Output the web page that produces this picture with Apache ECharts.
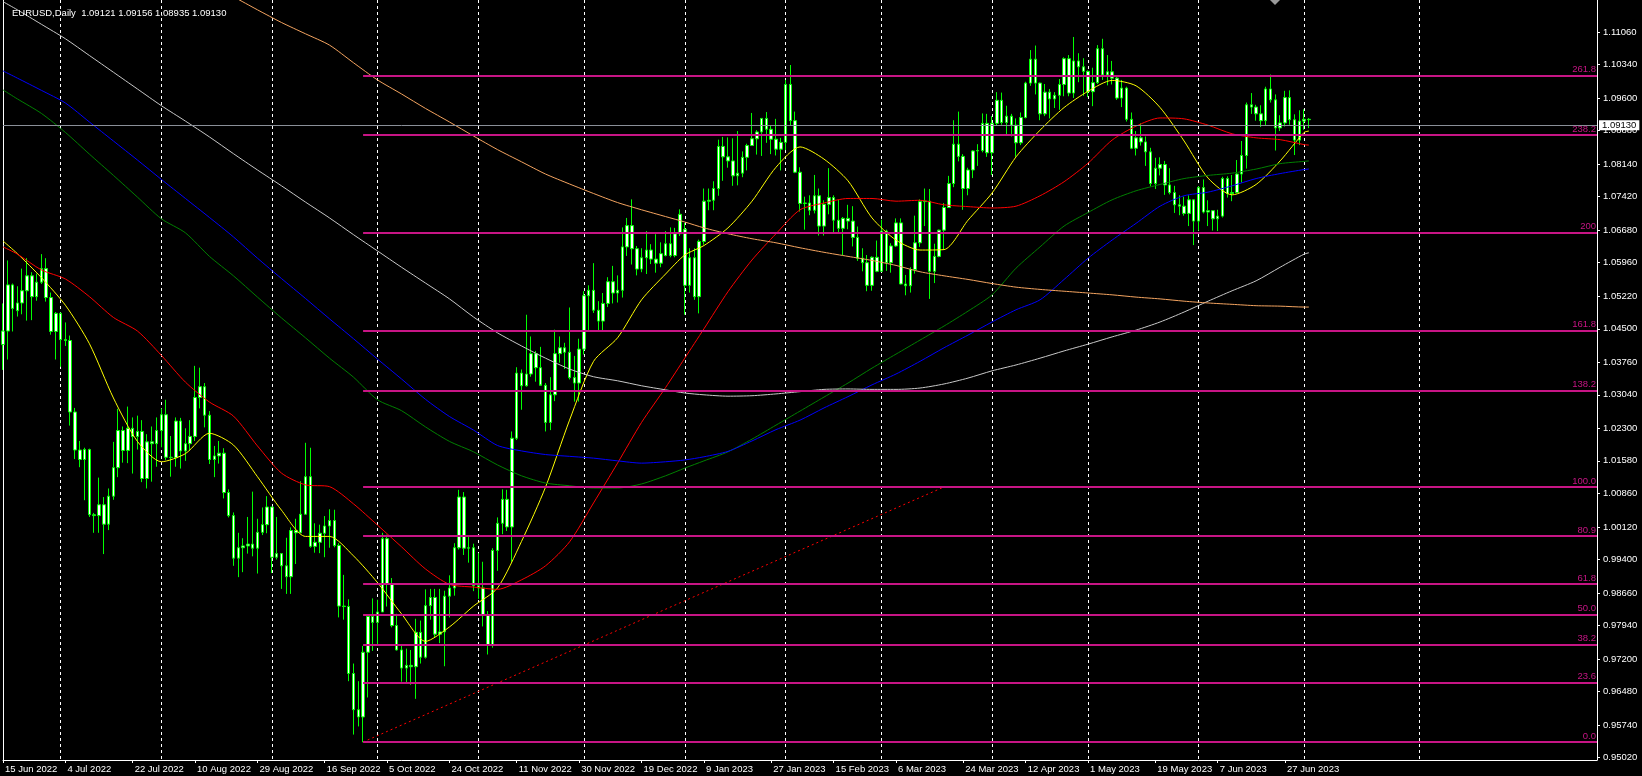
<!DOCTYPE html>
<html><head><meta charset="utf-8">
<script src="https://cdn.jsdelivr.net/npm/echarts@6/dist/echarts.min.js"></script>
<style>html,body{margin:0;padding:0;background:#000;overflow:hidden}#c{width:1642px;height:776px;}</style>
</head><body><div id="c"></div>
<script>
// ---------- data ----------
const titleText = 'EURUSD,Daily  1.09121 1.09156 1.08935 1.09130';
const startDate = '2022-06-15';
const missingDays = ['2022-12-26', '2023-01-02'];
const totalSlots = 333; // trading-day slots on the time axis (incl. empty future area)

// daily candles [open, high, low, close], one per trading day from startDate
const ohlc = [
  // Jun 15-17 2022
  [1.0415,1.0506,1.0359,1.0445],[1.0445,1.0601,1.0382,1.0547],[1.0547,1.0550,1.0444,1.0495],
  // Jun 20-24
  [1.0490,1.0544,1.0477,1.0507],[1.0507,1.0583,1.0482,1.0534],[1.0534,1.0606,1.0468,1.0567],[1.0567,1.0575,1.0469,1.0521],[1.0521,1.0572,1.0512,1.0553],
  // Jun 27-Jul 1
  [1.0553,1.0615,1.0549,1.0583],[1.0583,1.0606,1.0510,1.0519],[1.0519,1.0530,1.0437,1.0444],[1.0444,1.0487,1.0382,1.0484],[1.0484,1.0486,1.0366,1.0426],
  // Jul 4-8
  [1.0426,1.0464,1.0412,1.0424],[1.0424,1.0435,1.0236,1.0266],[1.0266,1.0275,1.0162,1.0182],[1.0182,1.0202,1.0144,1.0161],[1.0161,1.0187,1.0071,1.0183],
  // Jul 11-15
  [1.0183,1.0185,1.0034,1.0039],[1.0039,1.0043,0.9999,1.0037],[1.0037,1.0121,0.9999,1.0061],[1.0061,1.0078,0.9952,1.0018],[1.0018,1.0097,1.0005,1.0080],
  // Jul 18-22
  [1.0080,1.0200,1.0072,1.0143],[1.0143,1.0273,1.0122,1.0225],[1.0225,1.0234,1.0154,1.0181],[1.0181,1.0278,1.0153,1.0230],[1.0230,1.0254,1.0130,1.0212],
  // Jul 25-29
  [1.0212,1.0258,1.0183,1.0223],[1.0223,1.0248,1.0111,1.0119],[1.0119,1.0217,1.0097,1.0200],[1.0200,1.0234,1.0112,1.0196],[1.0196,1.0254,1.0145,1.0225],
  // Aug 1-5
  [1.0225,1.0274,1.0188,1.0260],[1.0260,1.0293,1.0160,1.0166],[1.0166,1.0213,1.0123,1.0165],[1.0165,1.0254,1.0145,1.0246],[1.0246,1.0253,1.0141,1.0180],
  // Aug 8-12
  [1.0180,1.0230,1.0158,1.0196],[1.0196,1.0248,1.0180,1.0212],[1.0212,1.0368,1.0202,1.0298],[1.0298,1.0364,1.0274,1.0322],[1.0322,1.0330,1.0232,1.0259],
  // Aug 15-19
  [1.0259,1.0268,1.0151,1.0161],[1.0161,1.0191,1.0122,1.0169],[1.0169,1.0202,1.0152,1.0175],[1.0175,1.0186,1.0075,1.0088],[1.0088,1.0095,1.0033,1.0037],
  // Aug 22-26
  [1.0037,1.0044,0.9926,0.9943],[0.9943,0.9999,0.9901,0.9966],[0.9966,0.9987,0.9912,0.9970],[0.9970,1.0034,0.9953,0.9974],[0.9974,1.0090,0.9947,0.9965],
  // Aug 29-Sep 2
  [0.9965,1.0030,0.9909,1.0000],[1.0000,1.0055,0.9994,1.0017],[1.0017,1.0080,0.9998,1.0056],[1.0056,1.0056,0.9910,0.9945],[0.9945,1.0034,0.9940,0.9953],
  // Sep 5-9
  [0.9953,0.9954,0.9875,0.9926],[0.9926,0.9988,0.9864,0.9902],[0.9902,1.0011,0.9864,1.0004],[1.0004,1.0030,0.9930,0.9999],[0.9999,1.0113,0.9999,1.0040],
  // Sep 12-16
  [1.0040,1.0198,1.0040,1.0123],[1.0123,1.0187,0.9966,0.9969],[0.9969,1.0020,0.9955,0.9978],[0.9978,1.0017,0.9954,0.9998],[0.9998,1.0036,0.9945,1.0014],
  // Sep 19-23
  [1.0014,1.0051,0.9966,1.0026],[1.0026,1.0050,0.9967,0.9971],[0.9971,0.9976,0.9812,0.9837],[0.9837,0.9906,0.9807,0.9836],[0.9836,0.9852,0.9671,0.9688],
  // Sep 26-30
  [0.9688,0.9710,0.9553,0.9608],[0.9608,0.9671,0.9571,0.9592],[0.9592,0.9749,0.9536,0.9735],[0.9735,0.9815,0.9635,0.9814],[0.9814,0.9854,0.9738,0.9801],
  // Oct 3-7
  [0.9801,0.9851,0.9750,0.9824],[0.9824,0.9999,0.9824,0.9986],[0.9986,0.9995,0.9836,0.9886],[0.9886,0.9899,0.9790,0.9794],[0.9794,0.9820,0.9739,0.9740],
  // Oct 10-14
  [0.9740,0.9752,0.9670,0.9700],[0.9700,0.9743,0.9668,0.9706],[0.9706,0.9740,0.9663,0.9703],[0.9703,0.9809,0.9632,0.9779],[0.9779,0.9805,0.9710,0.9724],
  // Oct 17-21
  [0.9724,0.9874,0.9721,0.9838],[0.9838,0.9875,0.9807,0.9856],[0.9856,0.9875,0.9767,0.9775],[0.9775,0.9875,0.9755,0.9780],[0.9780,0.9871,0.9704,0.9859],
  // Oct 24-28
  [0.9859,0.9905,0.9812,0.9877],[0.9877,0.9976,0.9860,0.9966],[0.9966,1.0094,0.9962,1.0078],[1.0078,1.0089,0.9950,0.9965],[0.9965,0.9990,0.9933,0.9966],
  // Oct 31-Nov 4
  [0.9966,0.9975,0.9870,0.9882],[0.9882,0.9954,0.9853,0.9877],[0.9877,0.9935,0.9792,0.9817],[0.9817,0.9826,0.9730,0.9750],[0.9750,0.9965,0.9745,0.9960],
  // Nov 7-11
  [0.9960,1.0033,0.9915,1.0020],[1.0020,1.0095,0.9996,1.0073],[1.0073,1.0094,1.0003,1.0012],[1.0012,1.0223,0.9935,1.0208],[1.0208,1.0365,1.0204,1.0352],
  // Nov 14-18
  [1.0352,1.0360,1.0271,1.0324],[1.0324,1.0481,1.0322,1.0350],[1.0350,1.0433,1.0344,1.0395],[1.0395,1.0401,1.0333,1.0364],[1.0364,1.0410,1.0327,1.0325],
  // Nov 21-25
  [1.0325,1.0330,1.0223,1.0243],[1.0243,1.0343,1.0226,1.0304],[1.0304,1.0448,1.0290,1.0395],[1.0395,1.0433,1.0375,1.0408],[1.0408,1.0419,1.0361,1.0398],
  // Nov 28-Dec 2
  [1.0398,1.0497,1.0338,1.0342],[1.0342,1.0390,1.0289,1.0330],[1.0330,1.0428,1.0289,1.0405],[1.0405,1.0533,1.0393,1.0523],[1.0523,1.0546,1.0446,1.0535],
  // Dec 5-9
  [1.0535,1.0595,1.0485,1.0491],[1.0491,1.0511,1.0443,1.0467],[1.0467,1.0529,1.0443,1.0506],[1.0506,1.0564,1.0498,1.0554],[1.0554,1.0589,1.0506,1.0529],
  // Dec 12-16
  [1.0529,1.0568,1.0508,1.0535],[1.0535,1.0674,1.0519,1.0631],[1.0631,1.0695,1.0611,1.0678],[1.0678,1.0736,1.0592,1.0627],[1.0627,1.0633,1.0568,1.0582],
  // Dec 19-23
  [1.0582,1.0628,1.0575,1.0607],[1.0607,1.0666,1.0571,1.0624],[1.0624,1.0637,1.0593,1.0604],[1.0604,1.0659,1.0574,1.0595],[1.0595,1.0641,1.0586,1.0616],
  // Dec 27-30
  [1.0612,1.0666,1.0610,1.0638],[1.0638,1.0674,1.0608,1.0612],[1.0612,1.0673,1.0608,1.0660],[1.0660,1.0714,1.0655,1.0703],
  // Jan 3-6 2023
  [1.0670,1.0684,1.0481,1.0546],[1.0546,1.0628,1.0530,1.0607],[1.0607,1.0628,1.0514,1.0521],[1.0521,1.0647,1.0484,1.0643],
  // Jan 9-13
  [1.0643,1.0760,1.0636,1.0732],[1.0732,1.0760,1.0712,1.0734],[1.0734,1.0776,1.0712,1.0760],[1.0760,1.0868,1.0744,1.0853],[1.0853,1.0874,1.0777,1.0830],
  // Jan 16-20
  [1.0830,1.0873,1.0806,1.0821],[1.0821,1.0871,1.0766,1.0788],[1.0788,1.0887,1.0767,1.0794],[1.0794,1.0842,1.0785,1.0829],[1.0829,1.0859,1.0800,1.0855],
  // Jan 23-27
  [1.0855,1.0927,1.0854,1.0870],[1.0870,1.0889,1.0835,1.0885],[1.0885,1.0915,1.0832,1.0915],[1.0915,1.0929,1.0861,1.0891],[1.0891,1.0900,1.0836,1.0869],
  // Jan 30-Feb 3
  [1.0869,1.0914,1.0833,1.0847],[1.0847,1.0872,1.0800,1.0862],[1.0862,1.1000,1.0845,1.0990],[1.0990,1.1033,1.0900,1.0910],[1.0910,1.0930,1.0794,1.0796],
  // Feb 6-10
  [1.0796,1.0807,1.0709,1.0727],[1.0727,1.0742,1.0669,1.0728],[1.0728,1.0745,1.0701,1.0712],[1.0712,1.0790,1.0705,1.0744],[1.0744,1.0760,1.0656,1.0677],
  // Feb 13-17
  [1.0677,1.0734,1.0656,1.0725],[1.0725,1.0805,1.0703,1.0740],[1.0740,1.0745,1.0660,1.0690],[1.0690,1.0735,1.0660,1.0672],[1.0672,1.0697,1.0612,1.0694],
  // Feb 20-24
  [1.0694,1.0724,1.0670,1.0688],[1.0688,1.0721,1.0632,1.0652],[1.0652,1.0676,1.0600,1.0606],[1.0606,1.0628,1.0577,1.0596],[1.0596,1.0613,1.0533,1.0546],
  // Feb 27-Mar 3
  [1.0546,1.0610,1.0534,1.0608],[1.0608,1.0645,1.0575,1.0577],[1.0577,1.0691,1.0576,1.0666],[1.0666,1.0669,1.0578,1.0596],[1.0596,1.0639,1.0574,1.0633],
  // Mar 6-10
  [1.0633,1.0694,1.0631,1.0684],[1.0684,1.0694,1.0548,1.0549],[1.0549,1.0569,1.0524,1.0545],[1.0545,1.0586,1.0530,1.0581],[1.0581,1.0700,1.0572,1.0640],
  // Mar 13-17
  [1.0640,1.0736,1.0631,1.0731],[1.0731,1.0760,1.0677,1.0732],[1.0732,1.0759,1.0516,1.0577],[1.0577,1.0638,1.0551,1.0610],[1.0610,1.0669,1.0608,1.0668],
  // Mar 20-24
  [1.0668,1.0728,1.0626,1.0718],[1.0718,1.0788,1.0717,1.0771],[1.0771,1.0911,1.0763,1.0858],[1.0858,1.0930,1.0820,1.0831],[1.0831,1.0836,1.0713,1.0760],
  // Mar 27-31
  [1.0760,1.0806,1.0745,1.0801],[1.0801,1.0845,1.0783,1.0843],[1.0843,1.0858,1.0810,1.0844],[1.0844,1.0926,1.0840,1.0904],[1.0904,1.0925,1.0830,1.0839],
  // Apr 3-7
  [1.0839,1.0920,1.0790,1.0904],[1.0904,1.0973,1.0900,1.0955],[1.0955,1.0972,1.0901,1.0906],[1.0906,1.0943,1.0880,1.0920],[1.0920,1.0925,1.0875,1.0900],
  // Apr 10-14
  [1.0900,1.0915,1.0830,1.0861],[1.0861,1.0928,1.0856,1.0917],[1.0917,1.0996,1.0915,1.0993],[1.0993,1.1066,1.0987,1.1046],[1.1046,1.1076,1.0968,1.0993],
  // Apr 17-21
  [1.0993,1.0994,1.0911,1.0925],[1.0925,1.0991,1.0920,1.0973],[1.0973,1.0980,1.0915,1.0958],[1.0958,1.0973,1.0938,1.0966],[1.0966,1.1002,1.0934,1.0990],
  // Apr 24-28
  [1.0990,1.1050,1.0964,1.1047],[1.1047,1.1055,1.0964,1.0971],[1.0971,1.1095,1.0960,1.1042],[1.1042,1.1059,1.0995,1.1029],[1.1029,1.1048,1.0965,1.1019],
  // May 1-5
  [1.1019,1.1021,1.0962,1.0974],[1.0974,1.1027,1.0942,1.0994],[1.0994,1.1077,1.0991,1.1069],[1.1069,1.1091,1.1000,1.1011],[1.1011,1.1055,1.0988,1.1018],
  // May 8-12
  [1.1018,1.1042,1.0990,1.1004],[1.1004,1.1007,1.0956,1.0960],[1.0960,1.1000,1.0940,1.0982],[1.0982,1.0985,1.0908,1.0913],[1.0913,1.0928,1.0847,1.0849],
  // May 15-19
  [1.0849,1.0887,1.0833,1.0872],[1.0872,1.0904,1.0855,1.0863],[1.0863,1.0875,1.0810,1.0841],[1.0841,1.0850,1.0765,1.0771],[1.0771,1.0828,1.0759,1.0805],
  // May 22-26
  [1.0805,1.0829,1.0789,1.0813],[1.0813,1.0821,1.0746,1.0768],[1.0768,1.0805,1.0747,1.0751],[1.0751,1.0766,1.0706,1.0724],[1.0724,1.0745,1.0701,1.0721],
  // May 29-Jun 2
  [1.0721,1.0742,1.0700,1.0705],[1.0705,1.0745,1.0677,1.0735],[1.0735,1.0736,1.0635,1.0688],[1.0688,1.0765,1.0667,1.0762],[1.0762,1.0780,1.0705,1.0708],
  // Jun 5-9
  [1.0708,1.0734,1.0677,1.0711],[1.0711,1.0712,1.0667,1.0693],[1.0693,1.0713,1.0666,1.0699],[1.0699,1.0786,1.0696,1.0782],[1.0782,1.0787,1.0740,1.0749],
  // Jun 12-16
  [1.0749,1.0790,1.0732,1.0751],[1.0751,1.0823,1.0750,1.0792],[1.0792,1.0865,1.0773,1.0833],[1.0833,1.0950,1.0804,1.0945],[1.0945,1.0971,1.0925,1.0940],
  // Jun 19-23
  [1.0940,1.0945,1.0910,1.0925],[1.0925,1.0944,1.0896,1.0910],[1.0910,1.0985,1.0900,1.0980],[1.0980,1.1012,1.0950,1.0956],[1.0956,1.0968,1.0844,1.0894],
  // Jun 26-30
  [1.0894,1.0922,1.0887,1.0905],[1.0905,1.0976,1.0897,1.0961],[1.0961,1.0977,1.0901,1.0912],[1.0912,1.0924,1.0834,1.0867],[1.0867,1.0933,1.0856,1.0909],
  // Jul 3-4
  [1.0909,1.0935,1.0890,1.0913],[1.09121,1.09156,1.08935,1.09130]
];

const maDates = ['2022-06-15','2022-06-20','2022-06-27','2022-07-04','2022-07-11','2022-07-18','2022-07-25','2022-08-01','2022-08-08','2022-08-15','2022-08-22','2022-08-29','2022-09-05','2022-09-12','2022-09-19','2022-09-26','2022-10-03','2022-10-10','2022-10-17','2022-10-24','2022-10-31','2022-11-07','2022-11-14','2022-11-21','2022-11-28','2022-12-05','2022-12-12','2022-12-19','2022-12-27','2023-01-03','2023-01-09','2023-01-16','2023-01-23','2023-01-30','2023-02-06','2023-02-13','2023-02-20','2023-02-27','2023-03-06','2023-03-13','2023-03-20','2023-03-27','2023-04-03','2023-04-10','2023-04-17','2023-04-24','2023-05-01','2023-05-08','2023-05-15','2023-05-22','2023-05-29','2023-06-05','2023-06-12','2023-06-19','2023-06-26','2023-07-03','2023-07-04'];
const maYellow = [1.0644,1.0616,1.0563,1.0502,1.0417,1.0297,1.0201,1.0156,1.0174,1.0219,1.0193,1.0123,1.0049,0.9991,0.9991,0.9948,0.9889,0.9820,0.9759,0.9791,0.9837,0.9877,0.9980,1.0100,1.0248,1.0378,1.0430,1.0514,1.0571,1.0613,1.0634,1.0673,1.0732,1.0807,1.0852,1.0825,1.0777,1.0695,1.0646,1.0624,1.0625,1.0690,1.0750,1.0830,1.0889,1.0939,1.0975,1.0999,1.0987,1.0939,1.0865,1.0783,1.0746,1.0769,1.0821,1.0884,1.0887];
const maRed = [1.0631,1.0615,1.0580,1.0560,1.0521,1.0475,1.0445,1.0391,1.0332,1.0288,1.0257,1.0191,1.0131,1.0105,1.0101,1.0063,1.0016,0.9968,0.9919,0.9885,0.9879,0.9874,0.9895,0.9926,0.9979,1.0065,1.0153,1.0243,1.0320,1.0385,1.0450,1.0532,1.0602,1.0660,1.0713,1.0728,1.0738,1.0738,1.0732,1.0734,1.0724,1.0720,1.0717,1.0721,1.0744,1.0775,1.0816,1.0867,1.0898,1.0916,1.0914,1.0900,1.0881,1.0872,1.0868,1.0857,1.0856];
const maGreen = [1.0978,1.0958,1.0926,1.0884,1.0836,1.0789,1.0741,1.0693,1.0662,1.0610,1.0567,1.0520,1.0474,1.0430,1.0385,1.0343,1.0293,1.0269,1.0233,1.0201,1.0178,1.0149,1.0125,1.0109,1.0103,1.0098,1.0098,1.0107,1.0125,1.0142,1.0158,1.0178,1.0206,1.0237,1.0268,1.0299,1.0330,1.0363,1.0394,1.0425,1.0456,1.0489,1.0525,1.0584,1.0631,1.0677,1.0707,1.0735,1.0755,1.0769,1.0782,1.0789,1.0794,1.0803,1.0815,1.0820,1.0821];
const maBlue = [1.1020,1.1004,1.0977,1.0949,1.0907,1.0865,1.0823,1.0780,1.0738,1.0696,1.0653,1.0606,1.0561,1.0517,1.0472,1.0428,1.0383,1.0339,1.0294,1.0256,1.0226,1.0192,1.0180,1.0172,1.0168,1.0164,1.0158,1.0153,1.0156,1.0160,1.0167,1.0179,1.0202,1.0227,1.0248,1.0275,1.0300,1.0326,1.0350,1.0378,1.0408,1.0436,1.0465,1.0492,1.0514,1.0559,1.0606,1.0646,1.0683,1.0721,1.0744,1.0752,1.0766,1.0782,1.0793,1.0802,1.0803];
const maSilver = [1.1173,1.1155,1.1123,1.1091,1.1054,1.1017,1.0980,1.0943,1.0909,1.0874,1.0837,1.0801,1.0766,1.0730,1.0695,1.0658,1.0622,1.0586,1.0551,1.0516,1.0476,1.0441,1.0412,1.0385,1.0361,1.0344,1.0335,1.0324,1.0315,1.0308,1.0304,1.0301,1.0302,1.0306,1.0311,1.0316,1.0317,1.0316,1.0316,1.0319,1.0328,1.0341,1.0357,1.0370,1.0385,1.0401,1.0416,1.0432,1.0447,1.0465,1.0487,1.0511,1.0534,1.0556,1.0586,1.0615,1.0618];
const maOrange = [null,null,null,null,null,null,null,null,null,1.1213,1.1184,1.1155,1.1127,1.1102,1.1077,1.1038,1.1000,1.0969,1.0937,1.0907,1.0876,1.0846,1.0819,1.0792,1.0770,1.0749,1.0729,1.0713,1.0698,1.0686,1.0673,1.0660,1.0649,1.0640,1.0629,1.0619,1.0610,1.0601,1.0590,1.0576,1.0567,1.0559,1.0550,1.0542,1.0537,1.0533,1.0529,1.0525,1.0520,1.0516,1.0511,1.0507,1.0504,1.0501,1.0500,1.0498,1.0498];

// Fibonacci retracement
const fibLevels = ['0.0','23.6','38.2','50.0','61.8','80.9','100.0','138.2','161.8','200','238.2','261.8'];
const fibPrices = [0.95366,0.96686,0.97525,0.98189,0.98858,0.99919,1.01003,1.03140,1.04466,1.06632,1.08783,1.10103];
const fibStart = '2022-09-28';
const fibTrendEnd = '2023-03-20';

// axis ticks
const yTickLabels = ['0.95020','0.95740','0.96480','0.97200','0.97940','0.98660','0.99400','1.00120','1.00860','1.01580','1.02300','1.03040','1.03760','1.04500','1.05220','1.05960','1.06680','1.07420','1.08140','1.08880','1.09600','1.10340','1.11060'];
const xLabelDates = ['2022-06-15','2022-07-04','2022-07-22','2022-08-10','2022-08-29','2022-09-16','2022-10-05','2022-10-24','2022-11-11','2022-11-30','2022-12-19','2023-01-09','2023-01-27','2023-02-15','2023-03-06','2023-03-24','2023-04-12','2023-05-01','2023-05-19','2023-06-07','2023-06-27'];
const gridDates = ['2022-07-01','2022-08-01','2022-09-01','2022-10-03','2022-11-01','2022-12-01','2023-01-03','2023-02-01','2023-03-01','2023-04-03','2023-05-01','2023-06-01','2023-07-03','2023-08-04'];
const lastPrice = 1.09130;
const yMin = 0.94968, yMax = 1.11767;

// ---------- build ----------
const MONTHS = ['Jan','Feb','Mar','Apr','May','Jun','Jul','Aug','Sep','Oct','Nov','Dec'];
function iso(d){ return d.toISOString().slice(0,10); }
const days = [];
{
  let d = new Date(startDate + 'T00:00:00Z');
  while (days.length < totalSlots) {
    const wd = d.getUTCDay();
    const s = iso(d);
    if (wd !== 0 && wd !== 6 && missingDays.indexOf(s) < 0) days.push(s);
    d = new Date(d.getTime() + 86400000);
  }
}
const labelSet = new Set(xLabelDates);
const gridSet = new Set(gridDates);
function fmtDate(s){ const p = s.split('-'); return (+p[2]) + ' ' + MONTHS[+p[1]-1] + ' ' + p[0]; }
const yTickVals = yTickLabels.map(Number);
const FONT = "'Liberation Sans', Arial, sans-serif";
const FS = 9.5;

const maLine = (name, arr, color) => ({
  name, type: 'line', data: maDates.map((d,i) => [d, arr[i]]),
  showSymbol: false, smooth: 0.25, silent: true, z: 3,
  lineStyle: { color, width: 1 }, clip: true, connectNulls: false
});

const chart = echarts.init(document.getElementById('c'), null, { renderer: 'canvas' });
chart.setOption({
  backgroundColor: '#000',
  animation: false,
  title: { text: titleText, left: 7, top: 3, textStyle: { color: '#fff', fontSize: FS, fontWeight: 'normal', fontFamily: FONT } },
  grid: { left: 3, right: 45, top: 0, bottom: 16, containLabel: false },
  xAxis: {
    type: 'category', data: days, boundaryGap: false,
    axisLine: { show: true, lineStyle: { color: '#fff', width: 1 } },
    axisTick: { show: true, length: 3, interval: (i, v) => labelSet.has(v), lineStyle: { color: '#fff' } },
    axisLabel: { interval: (i, v) => labelSet.has(v), formatter: fmtDate, color: '#fff', fontSize: FS, fontFamily: FONT, align: 'left', margin: 4, padding: [0,0,0,2] },
    splitLine: { show: true, interval: (i, v) => gridSet.has(v), lineStyle: { color: '#fff', width: 1, type: [3, 3] } }
  },
  yAxis: [{
    type: 'value', position: 'right', min: yMin, max: yMax,
    axisLine: { show: true, lineStyle: { color: '#fff', width: 1 } },
    axisTick: { show: true, length: 3, customValues: yTickVals, lineStyle: { color: '#fff' } },
    axisLabel: { customValues: yTickVals, color: '#fff', fontSize: FS, fontFamily: FONT, margin: 6,
      formatter: v => { const k = yTickVals.indexOf(v); return k >= 0 ? yTickLabels[k] : v.toFixed(5); } },
    splitLine: { show: false }
  }, {
    type: 'value', position: 'left', min: yMin, max: yMax,
    axisLine: { show: true, lineStyle: { color: '#fff', width: 1 } },
    axisTick: { show: false }, axisLabel: { show: false }, splitLine: { show: false }
  }],
  series: [
    {
      name: 'EURUSD', type: 'candlestick', barWidth: 3, z: 2,
      data: ohlc.map(r => [r[0], r[3], r[2], r[1]]),
      itemStyle: { color: '#ffffff', color0: '#ffffff', borderColor: '#00ff00', borderColor0: '#00ff00', borderWidth: 1 },
      markLine: {
        silent: true, symbol: 'none', z: 4,
        lineStyle: { color: '#8a8f98', width: 1, type: 'solid' },
        label: { position: 'end', formatter: () => lastPrice.toFixed(5), backgroundColor: '#fff', color: '#000', fontSize: FS, fontFamily: FONT, padding: [0, 3, 0, 3], distance: 2 },
        data: [{ yAxis: lastPrice }]
      }
    },
    maLine('MA yellow', maYellow, '#ffff00'),
    maLine('MA red', maRed, '#ff0000'),
    maLine('MA green', maGreen, '#008000'),
    maLine('MA blue', maBlue, '#0000ff'),
    maLine('MA silver', maSilver, '#c8c8c8'),
    maLine('MA orange', maOrange, '#f4a460'),
    {
      name: 'Fibo', type: 'line', silent: true, z: 5, showSymbol: false,
      data: [[fibStart, fibPrices[0]], [fibTrendEnd, fibPrices[6]]],
      lineStyle: { color: '#ff0000', width: 1, type: [2, 3] },
      markLine: {
        silent: true, symbol: 'none', z: 6,
        lineStyle: { color: '#c71585', width: 2, type: 'solid' },
        label: { position: 'insideEndTop', formatter: '{b}', color: '#c71585', fontSize: FS, fontFamily: FONT, distance: [1, 1] },
        data: fibPrices.map((p, i) => [{ coord: [fibStart, p], name: fibLevels[i] }, { coord: [days[days.length - 1], p] }])
      }
    }
  ],
  graphic: [{ type: 'polygon', shape: { points: [[1270, 0], [1280, 0], [1275, 5]] }, style: { fill: '#9a9a9a' }, silent: true }]
});
</script>
</body></html>
